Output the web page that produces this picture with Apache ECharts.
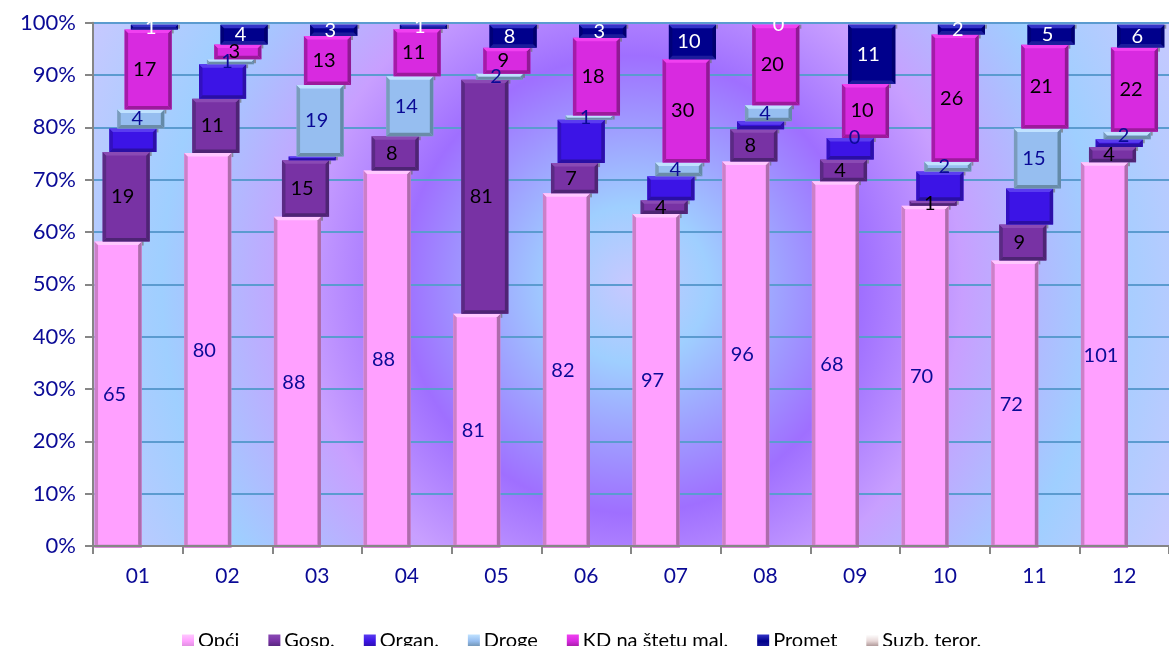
<!DOCTYPE html>
<html>
<head>
<meta charset="utf-8">
<style>html,body{margin:0;padding:0;background:#fff;overflow:hidden}#c{width:1169px;height:646px}</style>
<script src="https://cdn.jsdelivr.net/npm/echarts@6/dist/echarts.min.js"></script>
</head>
<body>
<div id="c"></div>
<script>
const months = ['01','02','03','04','05','06','07','08','09','10','11','12'];
const opci   = [65,80,88,88,81,82,97,96,68,70,72,101];
const gosp   = [19,11,15,8,81,7,4,8,4,1,9,4];
const organ  = [5,7,1,0,0,10,7,2,4,6,9,2];
const droge  = [4,1,19,14,2,1,4,4,0,2,15,2];
const kd     = [17,3,13,11,9,18,30,20,10,26,21,22];
const promet = [1,4,3,1,8,3,10,0,11,2,5,6];
const suzb   = [0,0,0,0,0,0,0,0,0,0,0,0];
const seriesNames = ['Opći','Gosp.','Organ.','Droge','KD na štetu mal.','Promet','Suzb. teror.'];
const seriesValues = [opci,gosp,organ,droge,kd,promet,suzb];

const looks = [
  {c:'#ffa0ff',t:'#ffc8ff',l:'#cc80c8',r:'#ae6cac',b:'#d88cd8',shift:-0.22,label:'#0a0a96'},
  {c:'#7832a4',t:'#8a4ab4',l:'#5a2a84',r:'#4e2474',b:'#4e2474',shift:-0.13,label:'#000'},
  {c:'#3c14e6',t:'#5a3cf0',l:'#3210c0',r:'#2c10a8',b:'#2a0fa4',shift:-0.055,label:null},
  {c:'#96bef0',t:'#c0e2ff',l:'#7a9cbc',r:'#648aa8',b:'#6a8ca8',shift:0.033,label:'#0a0a96'},
  {c:'#d82ae0',t:'#f040f0',l:'#a41ca8',r:'#901a94',b:'#9c1a9c',shift:0.115,label:'#000'},
  {c:'#00008c',t:'#3434c8',l:'#000078',r:'#000070',b:'#1c1c9c',shift:0.185,label:'#fff'},
  {c:'#e8d8d8',t:'#fff',l:'#b8a0a0',r:'#a08888',b:'#a08888',shift:0.26,label:null}
];
const totals = months.map((m,i)=>seriesValues.reduce((s,a)=>s+a[i],0));
const BAR_RATIO = 0.525, BEVEL = 3.5, DROP = 2;

function seriesData(k){
  return months.map((m,i)=>{
    let below = 0;
    for(let j=0;j<k;j++) below += seriesValues[j][i];
    const v = seriesValues[k][i];
    return [i, below/totals[i]*100, (below+v)/totals[i]*100, v];
  });
}
function poly(points,fill){ return {type:'polygon',silent:true,shape:{points},style:{fill}}; }

function makeRender(k){
  const s = looks[k];
  return function(params,api){
    const i = api.value(0), v = api.value(3);
    const p0 = api.coord([i,api.value(1)]), p1 = api.coord([i,api.value(2)]);
    const band = api.size([1,0])[0];
    const w = band*BAR_RATIO;
    const cx = p0[0]+band*s.shift;
    const x = cx-w/2, y = p1[1]+DROP, h = p0[1]-p1[1];
    const children = [];
    if(h>0){
      const b = Math.min(BEVEL,h/2), r=x+w, e=y+h;
      children.push({type:'rect',silent:true,shape:{x:r,y:y,width:2,height:Math.min(4,h)},style:{fill:'rgba(110,110,110,0.65)'}});
      children.push({type:'rect',silent:true,shape:{x,y,width:w,height:h},style:{fill:s.c}});
      children.push(poly([[x,y],[x+b,y+b],[x+b,e-b],[x,e]],s.l));
      children.push(poly([[r,y],[r-b,y+b],[r-b,e-b],[r,e]],s.r));
      children.push(poly([[x,y],[r,y],[r-b,y+b],[x+b,y+b]],s.t));
      children.push(poly([[x,e],[r,e],[r-b,e-b],[x+b,e-b]],s.b));
    }
    if(s.label){
      children.push({type:'text',silent:true,z2:100,style:{
        text:String(v),x:cx-3.5,y:y+h/2,fill:s.label,font:'20px Lato',align:'center',verticalAlign:'middle'
      }});
    }
    return {type:'group',children};
  };
}

const chart = echarts.init(document.getElementById('c'),null,{width:1169,height:646});
chart.setOption({
  animation:false,
  backgroundColor:'#fff',
  grid:{
    show:true,left:93,top:22.7,width:1084,height:523.3,borderWidth:0,
    backgroundColor:new echarts.graphic.RadialGradient(0.5,0.5,1.15,[
      {offset:0,color:'#c8c8ff'},
      {offset:0.13,color:'#9fcfff'},
      {offset:0.38,color:'#9f6fff'},
      {offset:0.55,color:'#c89fff'},
      {offset:0.78,color:'#9fcfff'},
      {offset:1,color:'#c8c8ff'}
    ])
  },
  legend:{
    left:177,top:626,itemWidth:12,itemHeight:13,itemGap:29,icon:'rect',
    textStyle:{fontFamily:'Lato',fontSize:20,color:'#000',padding:[0,0,0,-1]},
    data:seriesNames.slice()
  },
  xAxis:{
    type:'category',data:months,z:5,
    axisLine:{lineStyle:{color:'#868686',width:2}},
    axisTick:{show:true,alignWithLabel:false,length:8,lineStyle:{color:'#868686',width:2}},
    axisLabel:{fontFamily:'Lato',fontSize:21,color:'#0a0a96',margin:20,interval:0},
    splitLine:{show:false}
  },
  yAxis:{
    type:'value',min:0,max:100,interval:10,z:1,
    axisLine:{show:true,lineStyle:{color:'#868686',width:2}},
    axisTick:{show:true,length:8,lineStyle:{color:'#868686',width:2}},
    axisLabel:{fontFamily:'Lato',fontSize:22,color:'#0a0a96',margin:17,formatter:'{value}%'},
    splitLine:{show:true,lineStyle:{color:'#5b9bd0',width:2}}
  },
  series:seriesNames.map((name,k)=>({
    name,type:'custom',clip:false,
    itemStyle:{color:new echarts.graphic.LinearGradient(0,0,0,1,[
      {offset:0,color:looks[k].t},{offset:0.5,color:looks[k].c},{offset:1,color:looks[k].b}
    ])},
    encode:{x:0,y:[1,2]},
    renderItem:makeRender(k),
    data:seriesData(k)
  }))
});
</script>
</body>
</html>
